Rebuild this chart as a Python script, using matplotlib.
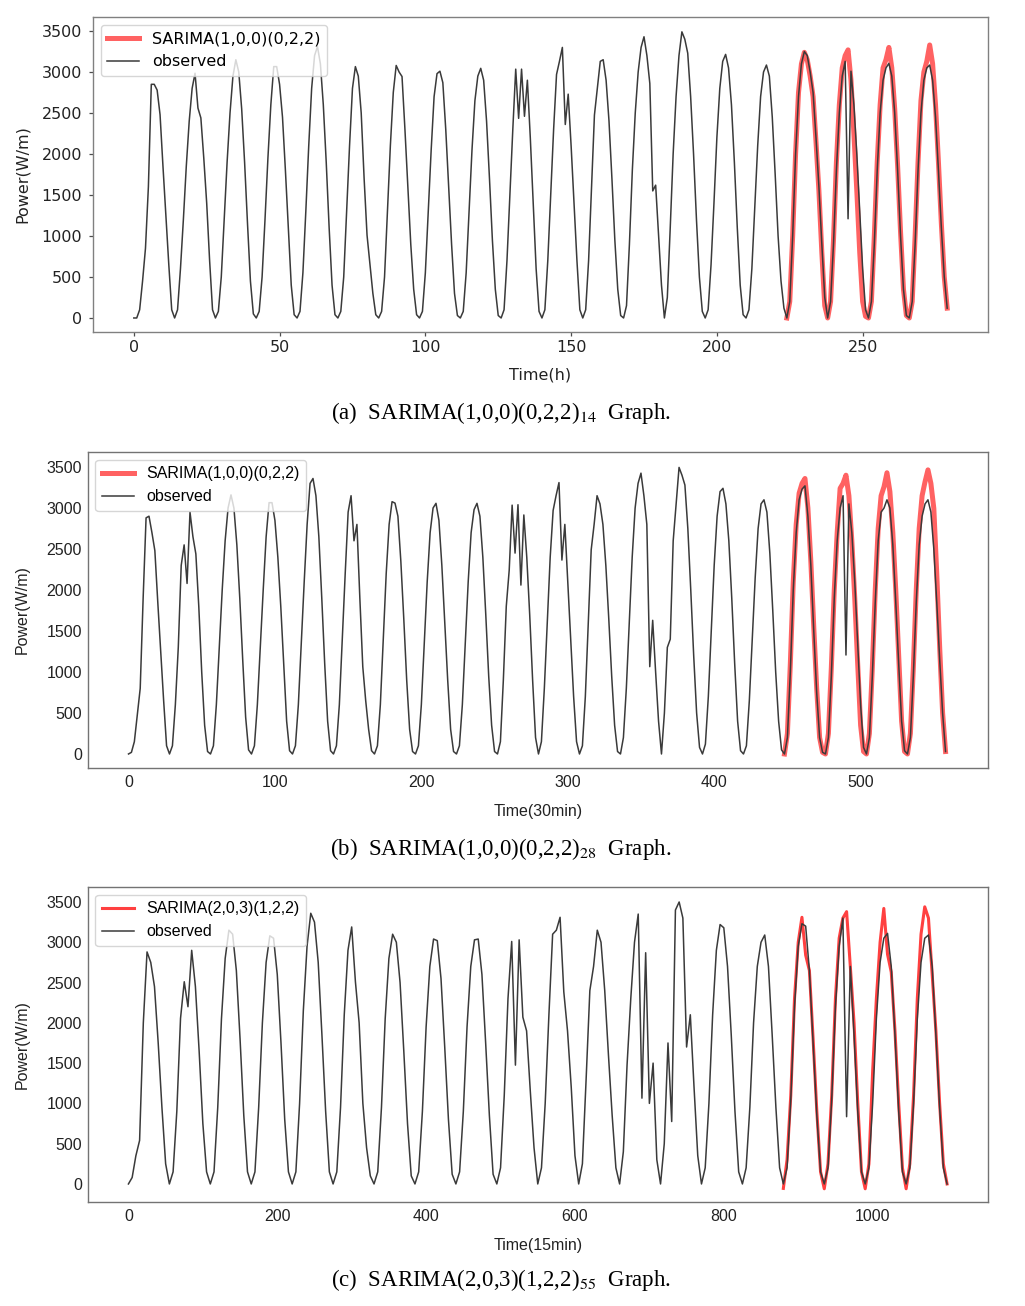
import numpy as np
import matplotlib
matplotlib.use("Agg")
import matplotlib.pyplot as plt
from matplotlib.lines import Line2D

plt.rcParams['mathtext.fontset'] = 'stix'
plt.rcParams['font.family'] = ['DejaVu Sans']

# ---------------- panel (a): hourly, 14 samples per day ----------------
A_OBS = [
    0, 0, 100, 450, 850, 1600, 2850, 2850, 2780, 2480, 1850, 1250, 650, 100,
    0, 100, 600, 1200, 1850, 2400, 2800, 2985, 2560, 2440, 1950, 1400, 700, 100,
    0, 80, 500, 1200, 1900, 2500, 2950, 3150, 3000, 2550, 1900, 1150, 450, 50,
    0, 80, 500, 1200, 1950, 2600, 3066, 3066, 2850, 2450, 1800, 1100, 400, 40,
    0, 80, 550, 1300, 2100, 2800, 3200, 3310, 3100, 2600, 1900, 1100, 400, 40,
    0, 80, 500, 1300, 2100, 2800, 3066, 2950, 2500, 1700, 1010, 650, 300, 40,
    0, 80, 500, 1300, 2100, 2750, 3080, 3000, 2945, 2300, 1600, 900, 350, 40,
    0, 80, 550, 1300, 2050, 2700, 2980, 3010, 2870, 2300, 1600, 900, 300, 30,
    0, 80, 550, 1300, 2050, 2650, 2950, 3045, 2900, 2400, 1700, 950, 350, 30,
    0, 100, 700, 1500, 2300, 3035, 2435, 3035, 2460, 2900, 2200, 1400, 600, 80,
    0, 100, 700, 1500, 2300, 2970, 3130, 3300, 2360, 2730, 2100, 1400, 700, 100,
    0, 100, 700, 1600, 2475, 2800, 3130, 3150, 2900, 2400, 1700, 950, 350, 30,
    0, 150, 900, 1800, 2500, 3000, 3300, 3430, 3200, 2860, 1550, 1620, 1000, 400,
    0, 250, 1100, 2000, 2700, 3200, 3490, 3400, 3230, 2700, 2000, 1200, 500, 80,
    0, 100, 650, 1400, 2200, 2800, 3130, 3215, 3050, 2600, 1900, 1100, 400, 40,
    0, 100, 600, 1350, 2100, 2700, 3000, 3085, 2950, 2450, 1750, 1000, 450, 120,
    0, 200, 1000, 2000, 2700, 3100, 3250, 3200, 3000, 2750, 2200, 1600, 900, 250,
    0, 200, 900, 1800, 2500, 2950, 3130, 1210, 3010, 2600, 2000, 1300, 600, 100,
    0, 200, 900, 1800, 2500, 2900, 3050, 3105, 2950, 2500, 1800, 1000, 350, 30,
    0, 200, 900, 1800, 2500, 2900, 3050, 3085, 2900, 2450, 1800, 1100, 500, 120,
]
A_PRED_START = 224
A_PRED = [
    0, 200, 1000, 2000, 2750, 3100, 3240, 3150, 2950, 2700, 2150, 1550, 800, 150,
    0, 200, 950, 1900, 2600, 3050, 3200, 3270, 2900, 2250, 1550, 800, 200, 20,
    0, 200, 1000, 1900, 2600, 3050, 3150, 3300, 3050, 2550, 1850, 1050, 350, 30,
    0, 200, 1000, 1900, 2650, 3000, 3130, 3330, 3100, 2600, 1900, 1150, 500, 120,
]
A_XTICKS = [0, 50, 100, 150, 200, 250]

# ---------------- panel (b): 30 min, read every 2nd step ----------------
B_STEP = 2
B_OBS = [
    0, 20, 150, 480, 800, 1900, 2880, 2900, 2700, 2480, 1850, 1250, 650, 100,
    0, 100, 600, 1300, 2300, 2550, 2080, 2950, 2650, 2440, 1800, 1000, 350, 30,
    0, 100, 600, 1300, 2000, 2600, 3000, 3160, 3000, 2550, 1900, 1150, 450, 50,
    0, 100, 600, 1300, 2000, 2650, 3065, 3065, 2850, 2400, 1800, 1100, 400, 40,
    0, 100, 600, 1350, 2100, 2800, 3300, 3360, 3150, 2650, 1900, 1100, 400, 40,
    0, 100, 600, 1400, 2200, 2950, 3150, 2600, 2800, 1900, 1065, 650, 300, 40,
    0, 100, 600, 1400, 2200, 2800, 3077, 3060, 2900, 2350, 1650, 900, 300, 30,
    0, 100, 600, 1350, 2100, 2700, 3000, 3057, 2850, 2300, 1600, 900, 300, 30,
    0, 100, 600, 1350, 2100, 2700, 2980, 3057, 2900, 2400, 1700, 950, 350, 30,
    0, 150, 900, 1800, 2240, 3035, 2450, 3040, 2060, 2915, 2400, 1700, 900, 200,
    0, 150, 800, 1600, 2400, 2970, 3150, 3310, 2365, 2800, 2100, 1400, 700, 150,
    0, 100, 700, 1600, 2490, 2800, 3150, 3050, 2800, 2300, 1650, 950, 350, 30,
    0, 200, 800, 1600, 2400, 3000, 3300, 3425, 3150, 2800, 1065, 1630, 1000, 400,
    0, 500, 1300, 1400, 2600, 3050, 3495, 3400, 3280, 2750, 2000, 1200, 500, 80,
    0, 120, 700, 1500, 2300, 2900, 3200, 3240, 3050, 2600, 1900, 1100, 400, 40,
    0, 100, 650, 1400, 2150, 2750, 3050, 3100, 2950, 2450, 1750, 1000, 400, 50,
    0, 200, 1000, 2000, 2700, 3100, 3230, 3270, 2900, 2300, 1500, 750, 200, 20,
    0, 200, 950, 1900, 2600, 3000, 3150, 1207, 3050, 2700, 2100, 1350, 600, 80,
    0, 200, 950, 1850, 2600, 2950, 3000, 3100, 3000, 2550, 1850, 1100, 400, 40,
    0, 200, 950, 1850, 2550, 2900, 3050, 3100, 2950, 2500, 1850, 1150, 500, 30,
]
B_PRED_START = 448
B_PRED = [
    0, 250, 1100, 2100, 2800, 3180, 3300, 3360, 3000, 2350, 1550, 800, 200, 20,
    0, 250, 1050, 2000, 2700, 3240, 3300, 3400, 3150, 2600, 1900, 1100, 350, 30,
    0, 250, 1050, 2000, 2750, 3150, 3260, 3430, 3200, 2700, 2000, 1200, 400, 30,
    0, 250, 1050, 2000, 2750, 3150, 3320, 3465, 3300, 2995, 2200, 1300, 500, 30,
]
B_XTICKS = [0, 100, 200, 300, 400, 500]

# ---------------- panel (c): 15 min, read every 5th step ----------------
C_STEP = 5
C_OBS = [
    0, 80, 350, 540, 2000, 2880, 2750, 2450, 1750, 950, 250,
    0, 150, 900, 2055, 2510, 2200, 2900, 2450, 1650, 750, 150,
    0, 150, 950, 2050, 2800, 3150, 3100, 2650, 1800, 850, 150,
    0, 150, 950, 2000, 2750, 3080, 3050, 2600, 1750, 800, 150,
    0, 150, 1000, 2150, 2950, 3360, 3250, 2750, 1850, 900, 150,
    0, 150, 950, 2100, 2900, 3190, 2510, 2000, 1000, 450, 100,
    0, 150, 950, 2050, 2800, 3100, 3000, 2500, 1650, 750, 100,
    0, 150, 900, 1950, 2700, 3040, 3020, 2550, 1700, 800, 120,
    0, 150, 900, 1950, 2700, 3030, 3040, 2600, 1750, 850, 120,
    0, 200, 1100, 2300, 3010, 1475, 3030, 2070, 1900, 1150, 450,
    0, 200, 1000, 2100, 3100, 3150, 3310, 2385, 1900, 1200, 350,
    0, 250, 1300, 2400, 2700, 3150, 3000, 2400, 1600, 850, 200,
    0, 400, 1475, 2300, 3000, 3350, 1065, 2870, 1000, 1500, 300,
    0, 500, 1750, 775, 3400, 3500, 3300, 1700, 2100, 1200, 350,
    0, 200, 1000, 2100, 2900, 3220, 3180, 2700, 1850, 900, 150,
    0, 200, 950, 2000, 2700, 3000, 3090, 2700, 1850, 950, 200,
    0, 200, 1050, 2200, 2950, 3230, 3200, 2650, 1750, 850, 150,
    0, 200, 1050, 2200, 2950, 3300, 835, 2700, 1850, 900, 150,
    0, 200, 1000, 2050, 2750, 3050, 3110, 2700, 1850, 900, 150,
    0, 200, 1000, 2050, 2750, 3050, 3090, 2700, 1850, 950, 200,
    0,
]
C_PRED_START = 880
C_PRED = [
    -55, 300, 1100, 2300, 3000, 3310, 2840, 2650, 1800, 900, 150,
    -60, 250, 1100, 2300, 3050, 3300, 3380, 2700, 2000, 1000, 150,
    -60, 250, 1400, 2300, 3000, 3420, 2850, 2630, 1900, 1000, 200,
    -60, 250, 1100, 2300, 3100, 3440, 3300, 2600, 1900, 1000, 250,
    0,
]
C_XTICKS = [0, 200, 400, 600, 800, 1000]

Y_TICKS = [0, 500, 1000, 1500, 2000, 2500, 3000, 3500]

W, H = 1025, 1306
fig = plt.figure(figsize=(W / 100, H / 100), dpi=100)


def box(left, top, right, bottom):
    return [left / W, 1 - bottom / H, (right - left) / W, (bottom - top) / H]


panels = [
    dict(rect=box(93, 17, 988, 332), step=1, obs=A_OBS, pstart=A_PRED_START, pred=A_PRED,
         xticks=A_XTICKS, xlim=(-14, 293), ylim=(-171, 3671), fam='DejaVu Sans',
         label='SARIMA(1,0,0)(0,2,2)', xlabel='Time(h)', rcol='#ff6262', rlw=3.6,
         ticks=True, edge='0.5',
         cap=r'(a)  SARIMA(1,0,0)(0,2,2)$_{14}$  Graph.', capy=413),
    dict(rect=box(87.5, 452, 988, 768), step=B_STEP, obs=B_OBS, pstart=B_PRED_START, pred=B_PRED,
         xticks=B_XTICKS, xlim=(-28, 587), ylim=(-171, 3683), fam='Liberation Sans',
         label='SARIMA(1,0,0)(0,2,2)', xlabel='Time(30min)', rcol='#ff6262', rlw=3.6,
         ticks=False, edge='0.45',
         cap=r'(b)  SARIMA(1,0,0)(0,2,2)$_{28}$  Graph.', capy=849),
    dict(rect=box(87.5, 887, 988, 1202), step=C_STEP, obs=C_OBS, pstart=C_PRED_START, pred=C_PRED,
         xticks=C_XTICKS, xlim=(-55, 1155), ylim=(-224, 3686), fam='Liberation Sans',
         label='SARIMA(2,0,3)(1,2,2)', xlabel='Time(15min)', rcol='#ff4040', rlw=2.2,
         ticks=False, edge='0.45',
         cap=r'(c)  SARIMA(2,0,3)(1,2,2)$_{55}$  Graph.', capy=1280),
]

FS = 11.5
for p in panels:
    ax = fig.add_axes(p['rect'])
    xo = np.arange(len(p['obs'])) * p['step']
    xp = p['pstart'] + np.arange(len(p['pred'])) * p['step']
    ax.plot(xp, p['pred'], color=p['rcol'], lw=p['rlw'], zorder=2, solid_joinstyle='round')
    ax.plot(xo, p['obs'], color='#3a3a3a', lw=1.1, zorder=3)
    ax.set_xlim(*p['xlim'])
    ax.set_ylim(*p['ylim'])
    ax.set_xticks(p['xticks'])
    ax.set_yticks(Y_TICKS)
    for s in ax.spines.values():
        s.set_color(p['edge'])
        s.set_linewidth(1.0)
    if p['ticks']:
        ax.tick_params(length=3.2, width=0.9, color='0.3', labelsize=FS)
        ax.tick_params(axis='x', pad=2.5)
        ax.tick_params(axis='y', pad=4.5)
    else:
        ax.tick_params(length=0, labelsize=FS)
        ax.tick_params(axis='x', pad=5)
        ax.tick_params(axis='y', pad=4)
    for t in ax.get_xticklabels() + ax.get_yticklabels():
        t.set_fontfamily(p['fam'])
        t.set_color('#222222')
    ax.set_ylabel('Power(W/m)', fontsize=FS, family=p['fam'], color='#222222')
    ax.set_xlabel(p['xlabel'], fontsize=FS, family=p['fam'], color='#222222')
    l = p['rect'][0] * W
    ax.yaxis.set_label_coords(-(l - 30) / (p['rect'][2] * W), 0.5)
    ax.xaxis.set_label_coords(0.5, -36 / (p['rect'][3] * H))
    handles = [Line2D([], [], color=p['rcol'], lw=p['rlw']),
               Line2D([], [], color='#3a3a3a', lw=1.1)]
    ax.legend(handles, [p['label'], 'observed'], loc='upper left',
              prop={'family': p['fam'], 'size': FS}, framealpha=0.8,
              handlelength=2.0)
    fig.text(501 / W, 1 - p['capy'] / H, p['cap'], ha='center', va='center',
             family='Liberation Serif', fontsize=16.5)

fig.savefig('out.png', dpi=100)
